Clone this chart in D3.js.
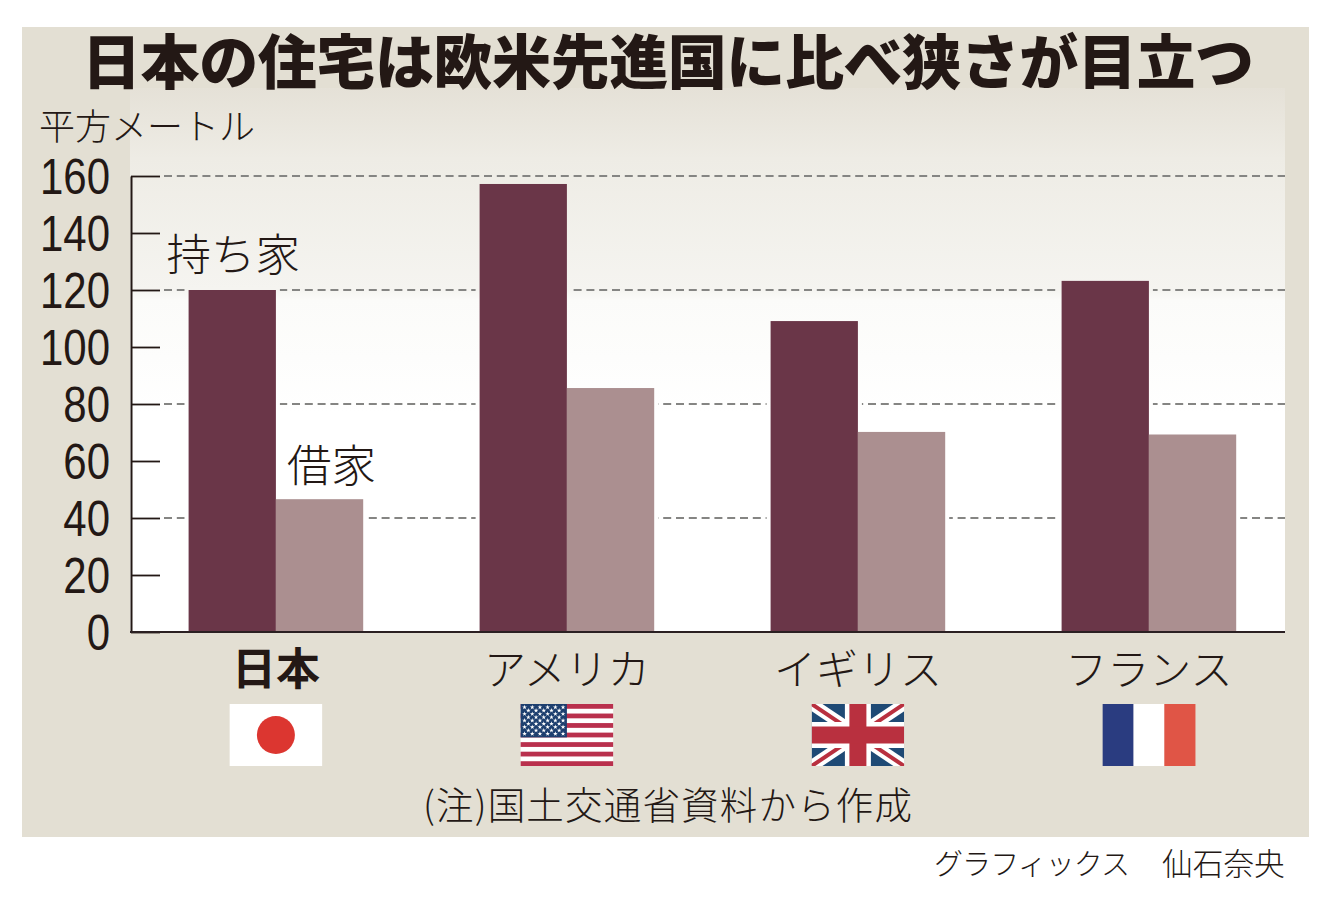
<!DOCTYPE html>
<html lang="ja">
<head>
<meta charset="utf-8">
<script src="https://cdn.jsdelivr.net/npm/d3@7/dist/d3.min.js"></script>
<style>
html,body{margin:0;padding:0;background:#fff;overflow:hidden}
svg{display:block}
text{font-family:"Noto Sans CJK JP","Noto Sans",sans-serif;fill:#231815}
</style>
</head>
<body>
<svg id="c" width="1324" height="908"></svg>
<script>
const categories = ["日本", "アメリカ", "イギリス", "フランス"];
const ownedValues = [120, 157.2, 109.1, 123.2];
const rentedValues = [46.6, 85.6, 70.2, 69.3];
const yTicks = [0, 20, 40, 60, 80, 100, 120, 140, 160];
const gridTicks = [40, 80, 120, 160];
const seriesNames = ["持ち家", "借家"];
const titleText = "日本の住宅は欧米先進国に比べ狭さが目立つ";
const unitText = "平方メートル";
const noteText = "(注)国土交通省資料から作成";
const creditRole = "グラフィックス";
const creditName = "仙石奈央";

const svg = d3.select("#c");
const defs = svg.append("defs");

const y = d3.scaleLinear().domain([0, 160]).range([632, 176]);
const x = d3.scaleBand().domain(categories).range([130.4, 1294.4]).paddingInner(0.4).paddingOuter(0.2);
const inner = d3.scaleBand().domain([0, 1]).range([0, x.bandwidth()]);

const grad = defs.append("linearGradient").attr("id", "bg")
  .attr("gradientUnits", "userSpaceOnUse").attr("x1", 0).attr("x2", 0).attr("y1", 88).attr("y2", 632);
[[0, "#e5e1d7"], [0.13, "#eeece5"], [0.37, "#f5f4f0"], [0.39, "#fbfbf9"], [0.6, "#ffffff"], [1, "#ffffff"]]
  .forEach(s => grad.append("stop").attr("offset", s[0]).attr("stop-color", s[1]));

svg.append("rect").attr("x", 22).attr("y", 27).attr("width", 1287).attr("height", 810).attr("fill", "#e3dfd3");
svg.append("rect").attr("x", 130).attr("y", 88).attr("width", 1155).attr("height", 544).attr("fill", "url(#bg)");

// dashed grid
svg.append("g").selectAll("line").data(gridTicks).join("line")
  .attr("x1", 164).attr("x2", 1285)
  .attr("y1", d => y(d)).attr("y2", d => y(d))
  .attr("stroke", "#858583").attr("stroke-width", 2).attr("stroke-dasharray", "8 4.8");

// series
const series = [ownedValues, rentedValues];
const colors = ["#6a3648", "#ab8f90"];

// halo that interrupts the grid around the bars
svg.append("g").selectAll("g").data(series).join("g").each(function (vals, s) {
  d3.select(this).selectAll("rect").data(vals).join("rect")
    .attr("x", (d, i) => x(categories[i]) + inner(s) - 4)
    .attr("y", d => y(d) - 4)
    .attr("width", inner.bandwidth() + 8)
    .attr("height", d => y(0) - y(d) + 4)
    .attr("fill", "url(#bg)");
});
svg.append("g").selectAll("g").data(series).join("g").each(function (vals, s) {
  d3.select(this).selectAll("rect").data(vals).join("rect")
    .attr("x", (d, i) => x(categories[i]) + inner(s))
    .attr("y", d => y(d))
    .attr("width", inner.bandwidth())
    .attr("height", d => y(0) - y(d))
    .attr("fill", colors[s]);
});

// y axis
const axis = svg.append("g").attr("transform", "translate(131,0)")
  .call(d3.axisLeft(y).tickValues(yTicks).tickSize(-29).tickSizeOuter(0).tickPadding(25));
axis.select(".domain").attr("stroke", "#231815").attr("stroke-width", 2);
axis.selectAll(".tick line").attr("stroke", "#231815").attr("stroke-width", 1.8);
axis.selectAll(".tick text")
  .style("font-family", '"Liberation Sans",sans-serif')
  .style("font-size", "50px").style("fill", "#231815")
  .attr("dy", "0.35em")
  .attr("transform", "scale(0.84,1)");

// baseline
svg.append("line").attr("x1", 130).attr("x2", 1285).attr("y1", 632).attr("y2", 632)
  .attr("stroke", "#2b2022").attr("stroke-width", 2);

// texts
svg.append("text").attr("x", 82).attr("y", 84).attr("font-size", 59).attr("font-weight", 900)
  .attr("textLength", 1172).attr("lengthAdjust", "spacing").text(titleText);
svg.append("text").attr("x", 39).attr("y", 140).attr("font-size", 36).attr("font-weight", 300).text(unitText);
svg.append("text").attr("x", x(categories[0]) - 22).attr("y", 271).attr("font-size", 44.5).attr("font-weight", 300).text(seriesNames[0]);
svg.append("text").attr("x", x(categories[0]) + inner(1) + 11).attr("y", 482).attr("font-size", 44.5).attr("font-weight", 300).text(seriesNames[1]);

svg.append("g").selectAll("text").data(categories).join("text")
  .attr("x", d => x(d) + x.bandwidth() / 2)
  .attr("y", 685).attr("text-anchor", "middle")
  .attr("font-size", (d, i) => i === 0 ? 44 : 42)
  .attr("font-weight", (d, i) => i === 0 ? 700 : 300)
  .text(d => d);

svg.append("text").attr("x", 423).attr("y", 819).attr("font-size", 37.5).attr("font-weight", 300)
  .attr("textLength", 489).text(noteText);
svg.append("text").attr("x", 934).attr("y", 875).attr("font-size", 29).attr("font-weight", 300)
  .attr("textLength", 196).text(creditRole);
svg.append("text").attr("x", 1162).attr("y", 875).attr("font-size", 30.7).attr("font-weight", 300)
  .text(creditName);

// flags
const fw = 92.5, fh = 62, fy = 704;
const flagG = categories.map(d => svg.append("g")
  .attr("transform", `translate(${x(d) + x.bandwidth() / 2 - fw / 2},${fy})`));

// Japan
flagG[0].append("rect").attr("width", fw).attr("height", fh).attr("fill", "#ffffff");
flagG[0].append("circle").attr("cx", fw / 2).attr("cy", fh / 2).attr("r", 19).attr("fill", "#dc3630");

// USA
flagG[1].append("rect").attr("width", fw).attr("height", fh).attr("fill", "#ffffff");
flagG[1].selectAll("rect.s").data(d3.range(0, 13, 2)).join("rect").attr("class", "s")
  .attr("x", 0).attr("y", d => d * fh / 13).attr("width", fw).attr("height", fh / 13).attr("fill", "#b9304d");
flagG[1].append("rect").attr("width", fw / 2).attr("height", fh * 7 / 13).attr("fill", "#1d3f6f");
const stars = d3.range(9).flatMap(r => d3.range(r % 2 ? 5 : 6).map(c => [c, r]));
const star = d3.symbol().type(d3.symbolStar).size(7)();
flagG[1].selectAll("path").data(stars).join("path").attr("d", star).attr("fill", "#fff")
  .attr("transform", d => `translate(${(d[1] % 2 ? 7.7 : 3.9) + d[0] * 7.7},${3.3 + d[1] * 3.3})`);

// UK
const uk = flagG[2];
defs.append("clipPath").attr("id", "ukc").append("rect").attr("width", fw).attr("height", fh);
const ukc = uk.append("g").attr("clip-path", "url(#ukc)");
ukc.append("rect").attr("width", fw).attr("height", fh).attr("fill", "#1f4a75");
const diag = [[0, 0, fw, fh], [0, fh, fw, 0]];
ukc.selectAll("line.w").data(diag).join("line").attr("class", "w")
  .attr("x1", d => d[0]).attr("y1", d => d[1]).attr("x2", d => d[2]).attr("y2", d => d[3])
  .attr("stroke", "#fff").attr("stroke-width", 12);
ukc.selectAll("line.r").data(diag).join("line").attr("class", "r")
  .attr("x1", d => d[0]).attr("y1", d => d[1]).attr("x2", d => d[2]).attr("y2", d => d[3])
  .attr("stroke", "#b9303f").attr("stroke-width", 4);
ukc.append("rect").attr("x", fw / 2 - 13).attr("width", 26).attr("height", fh).attr("fill", "#fff");
ukc.append("rect").attr("y", fh / 2 - 13).attr("width", fw).attr("height", 26).attr("fill", "#fff");
ukc.append("rect").attr("x", fw / 2 - 8.5).attr("width", 17).attr("height", fh).attr("fill", "#b9303f");
ukc.append("rect").attr("y", fh / 2 - 8.5).attr("width", fw).attr("height", 17).attr("fill", "#b9303f");

// France
["#2a3c80", "#ffffff", "#e05546"].forEach((c, i) => flagG[3].append("rect")
  .attr("x", i * fw / 3).attr("width", fw / 3 + 0.3).attr("height", fh).attr("fill", c));
</script>
</body>
</html>
